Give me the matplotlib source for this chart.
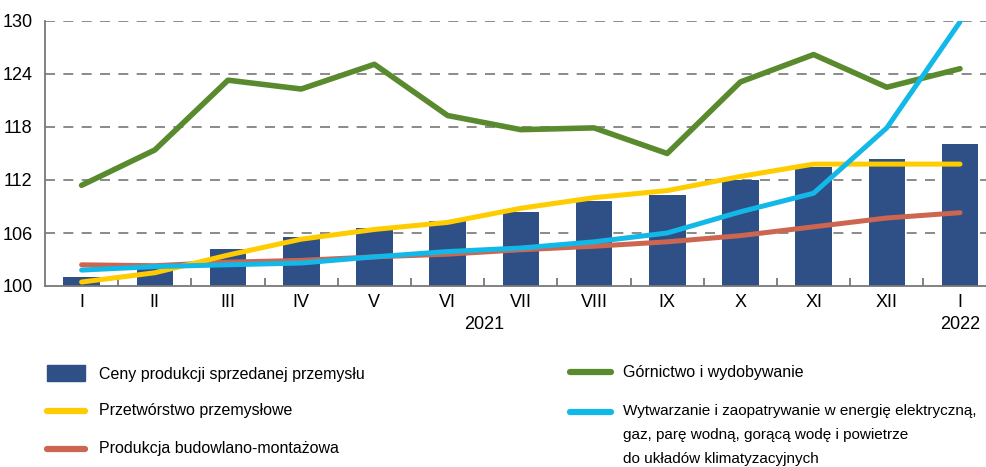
import matplotlib
matplotlib.use('Agg')
import matplotlib.pyplot as plt
from matplotlib.patches import Rectangle
import numpy as np

plt.rcParams['font.family'] = ['Liberation Sans', 'DejaVu Sans']

# miesiace
months = ['I', 'II', 'III', 'IV', 'V', 'VI', 'VII', 'VIII', 'IX', 'X', 'XI', 'XII', 'I']
years = ['2021', '2022']

# ceny produkcji sprzedanej przemyslu (slupki)
ceny = [101.0, 102.0, 104.2, 105.5, 106.6, 107.4, 108.4, 109.6, 110.3, 112.0, 113.5, 114.4, 116.1]
# gornictwo i wydobywanie
gornictwo = [111.4, 115.4, 123.3, 122.3, 125.1, 119.3, 117.7, 117.9, 115.0, 123.1, 126.2, 122.5, 124.6]
# przetworstwo przemyslowe
przetworstwo = [100.45, 101.5, 103.5, 105.3, 106.4, 107.2, 108.8, 110.0, 110.8, 112.4, 113.8, 113.8, 113.8]
# wytwarzanie energii
energia = [101.8, 102.2, 102.4, 102.6, 103.3, 103.9, 104.3, 105.0, 106.0, 108.4, 110.5, 117.9, 129.9]
# budownictwo
budowlano = [102.4, 102.3, 102.7, 102.9, 103.3, 103.6, 104.1, 104.5, 105.0, 105.7, 106.7, 107.7, 108.3]

labels = ['Ceny produkcji sprzedanej przemysłu', 'Przetwórstwo przemysłowe', 'Produkcja budowlano-montażowa',
          'Górnictwo i wydobywanie',
          'Wytwarzanie i zaopatrywanie w energię elektryczną,\ngaz, parę wodną, gorącą wodę i powietrze\ndo układów klimatyzacyjnych']

c_bar = '#2f4f87'
c_green = '#5a8a2e'
c_yellow = '#ffcc00'
c_red = '#cc6650'
c_blue = '#12b8e8'
c_grid = '#777777'

fig = plt.figure(figsize=(9.86, 4.67), dpi=100)
W, H = 986, 467
# osie: lewo x=45, gora y=21 (130), dol y=286 (100)
ax = fig.add_axes([45 / W, 1 - 286 / H, (986 - 45) / W, (286 - 21) / H])

x = np.arange(len(months))
ax.bar(x, [v - 100 for v in ceny], bottom=100, width=0.5, color=c_bar, zorder=2)
ax.plot(x, budowlano, color=c_red, lw=3.6, solid_capstyle='round', zorder=3)
ax.plot(x, przetworstwo, color=c_yellow, lw=3.6, solid_capstyle='round', zorder=4)
ax.plot(x, gornictwo, color=c_green, lw=4.0, solid_capstyle='round', zorder=5)
ax.plot(x, energia, color=c_blue, lw=3.6, solid_capstyle='round', zorder=6)

ax.set_xlim(-0.5, -0.5 + (986 - 45) / 73.2)
ax.set_ylim(100, 130)
ax.set_yticks(range(100, 131, 6))
for yv in range(106, 131, 6):
    ax.axhline(yv, color=c_grid, lw=1.2, dashes=(6, 5), zorder=1)

for s in ['top', 'right']:
    ax.spines[s].set_visible(False)
for s in ['left', 'bottom']:
    ax.spines[s].set_color(c_grid)
    ax.spines[s].set_linewidth(1.3)

ax.set_xticks(x)
ax.set_xticklabels(months)
ax.set_xticks(np.arange(0.5, 12, 1), minor=True)
ax.tick_params(axis='x', which='major', length=0, labelsize=13, pad=6)
ax.tick_params(axis='x', which='minor', direction='in', length=6, color=c_grid, width=1.3)
ax.tick_params(axis='y', length=0, labelsize=13, pad=9)

ax.text(5.5, -0.145, years[0], transform=ax.get_xaxis_transform(), ha='center', va='center', fontsize=13)
ax.text(12, -0.145, years[1], transform=ax.get_xaxis_transform(), ha='center', va='center', fontsize=13)

# legenda - rysowana recznie w pikselach
lax = fig.add_axes([0, 0, 1, 1])
lax.set_xlim(0, W)
lax.set_ylim(H, 0)
lax.axis('off')

lax.add_patch(Rectangle((47, 365), 38, 16, color=c_bar))
lax.plot([47, 85], [411, 411], color=c_yellow, lw=4.5, solid_capstyle='round')
lax.plot([47, 85], [449, 449], color=c_red, lw=4.5, solid_capstyle='round')
lax.plot([570, 611], [372, 372], color=c_green, lw=4.5, solid_capstyle='round')
lax.plot([570, 611], [412, 412], color=c_blue, lw=4.5, solid_capstyle='round')

lax.text(99, 374, labels[0], fontsize=11.5, va='center', ha='left')
lax.text(99, 411, labels[1], fontsize=11.5, va='center', ha='left')
lax.text(99, 449, labels[2], fontsize=11.5, va='center', ha='left')
lax.text(623, 372, labels[3], fontsize=11.5, va='center', ha='left')
lax.text(623, 404, labels[4], fontsize=11, va='top', ha='left', linespacing=1.9)

fig.savefig('out.png', dpi=100)
